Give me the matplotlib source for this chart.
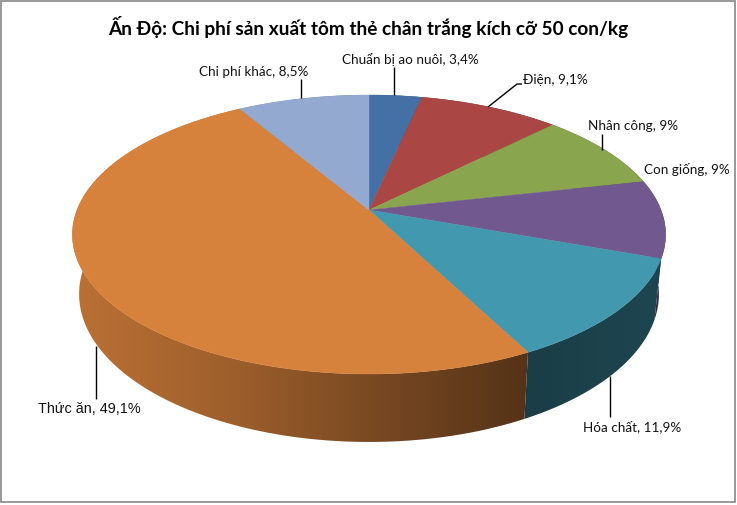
import numpy as np
import matplotlib
matplotlib.use('Agg')
import matplotlib.pyplot as plt
from matplotlib.patches import Polygon, Rectangle

plt.rcParams['font.family'] = ['Lato', 'Noto Sans', 'DejaVu Sans']

title = 'Ấn Độ: Chi phí sản xuất tôm thẻ chân trắng kích cỡ 50 con/kg'
names = ['Chuẩn bị ao nuôi', 'Điện', 'Nhân công', 'Con giống', 'Hóa chất', 'Thức ăn', 'Chi phí khác']
values = [3.4, 9.1, 9, 9, 11.9, 49.1, 8.5]
colors = ['#4470A5', '#AA4643', '#89A54E', '#71588F', '#4198AF', '#D6813C', '#93A9CF']

# perspective of the disc, in pixels
persp = 0.1757
top_disc = (369, 211, 292, 135.2)
bottom_disc = (369, 269, 285.4, 143.4)


def rim(theta, disc):
    # theta is clockwise from the back of the pie
    cx, cy, a, b = disc
    w = 1 + persp * np.cos(theta)
    return cx + a * np.sin(theta) / w, cy - b * np.cos(theta) / w


def side_shade(x):
    return np.interp(x, [80, 230, 369, 524, 560, 660], [0.87, 0.74, 0.57, 0.40, 0.42, 0.46])


fig = plt.figure(figsize=(7.37, 5.06), dpi=100)
ax = fig.add_axes([0, 0, 1, 1])

ax.add_patch(Rectangle((1.5, 1.5), 733.5, 501.5, fc='white', ec='#868686', lw=1.2))

edges = np.radians(np.concatenate([[0], np.cumsum(values)]) * 3.6)

# side wall as a left-right gradient clipped to each slice, then the top on it
grad_x = np.arange(0, 737)
for i in range(len(values)):
    t = np.linspace(edges[i], edges[i + 1], 120)
    base = np.array(matplotlib.colors.to_rgb(colors[i]))
    tx, ty = rim(t, top_disc)
    bx, by = rim(t, bottom_disc)
    wall = list(zip(tx, ty)) + list(zip(bx[::-1], by[::-1]))
    patch = Polygon(wall, closed=True, fc='none', ec='none', transform=ax.transData)
    ax.add_patch(patch)
    shade = side_shade(grad_x)[None, :, None] * base[None, None, :]
    im = ax.imshow(shade, extent=(0, 737, 506, 0), aspect='auto', zorder=2, interpolation='bilinear')
    im.set_clip_path(patch)

for i in range(len(values)):
    t = np.linspace(edges[i], edges[i + 1], 120)
    tx, ty = rim(t, top_disc)
    pts = [(top_disc[0], top_disc[1])] + list(zip(tx, ty))
    ax.add_patch(Polygon(pts, closed=True, fc=colors[i], ec=colors[i], lw=0.3, zorder=3))

ax.set_xlim(0, 737)
ax.set_ylim(506, 0)
ax.axis('off')

ax.text(368, 27, title, ha='center', va='center', fontsize=13.7, fontweight='bold', color='black', zorder=5)

# label centres and leader lines
label_xy = [(410, 60), (555.5, 80), (633, 126), (687, 169), (632, 427), (89.5, 409), (253.5, 72)]
leaders = [
    [(394.5, 68), (394.5, 96)],
    [(522, 85), (517, 85), (488, 108)],
    [(602.5, 135), (602.5, 151)],
    None,
    [(610.5, 377), (610.5, 418)],
    [(96.5, 347), (96.5, 400)],
    [(301.5, 80), (301.5, 99)],
]

for name, val, xy, lead in zip(names, values, label_xy, leaders):
    txt = f'{name}, {val}%'.replace('.', ',')
    if name == 'Thức ăn':
        ax.text(xy[0], xy[1], txt, ha='center', va='center', fontsize=10.4, color='#111111',
                family=['Liberation Sans'], zorder=5)
    else:
        ax.text(xy[0], xy[1], txt, ha='center', va='center', fontsize=9.7, color='#111111', zorder=5)
    if lead:
        ax.plot([p[0] for p in lead], [p[1] for p in lead], color='black', lw=1, zorder=4, solid_capstyle='butt')

fig.savefig('out.png', dpi=100)
